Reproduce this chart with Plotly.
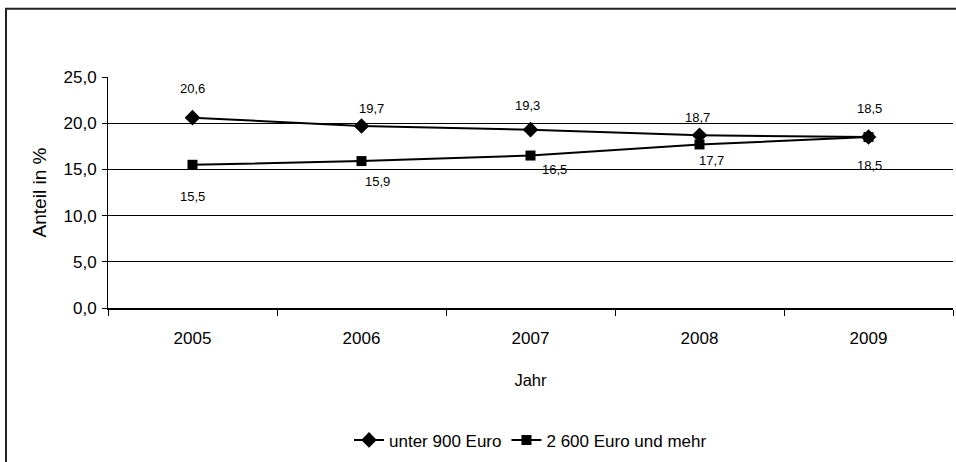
import plotly.graph_objects as go

# Data
years = ["2005", "2006", "2007", "2008", "2009"]
unter_900 = [20.6, 19.7, 19.3, 18.7, 18.5]
ab_2600 = [15.5, 15.9, 16.5, 17.7, 18.5]
series_names = ["unter 900 Euro", "2 600 Euro und mehr"]

# Label offsets (pixels) for the value annotations
label_shift_top = [(0, 29), (10, 17), (-3, 24), (-2, 18), (1, 29)]
label_shift_bottom = [(0, -32), (16, -20), (24, -14), (12, -16), (1, -28)]

FONT = "Liberation Sans, Arial, sans-serif"

fig = go.Figure()
fig.add_trace(go.Scatter(
    x=years, y=unter_900, name=series_names[0], mode="lines+markers",
    line=dict(color="black", width=2),
    marker=dict(symbol="diamond", size=12, color="black"),
))
fig.add_trace(go.Scatter(
    x=years, y=ab_2600, name=series_names[1], mode="lines+markers",
    line=dict(color="black", width=2),
    marker=dict(symbol="square", size=10, color="black"),
))

def fmt(v):
    return f"{v:.1f}".replace(".", ",")

annotations = []
for i, (v, (dx, dy)) in enumerate(zip(unter_900, label_shift_top)):
    annotations.append(dict(x=i, y=v, xref="x", yref="y", text=fmt(v), showarrow=False,
                            xshift=dx, yshift=dy,
                            font=dict(family=FONT, size=13, color="black")))
for i, (v, (dx, dy)) in enumerate(zip(ab_2600, label_shift_bottom)):
    annotations.append(dict(x=i, y=v, xref="x", yref="y", text=fmt(v), showarrow=False,
                            xshift=dx, yshift=dy,
                            font=dict(family=FONT, size=13, color="black")))

fig.update_layout(
    width=956, height=462,
    margin=dict(l=108, r=3, t=77, b=151),
    paper_bgcolor="white", plot_bgcolor="white",
    separators=",.",
    font=dict(family=FONT, size=16, color="black"),
    showlegend=True,
    legend=dict(orientation="h", x=0.5, xanchor="center", y=-0.573, yanchor="middle",
                font=dict(family=FONT, size=17, color="black"),
                itemwidth=30, traceorder="normal"),
    annotations=annotations,
    shapes=[dict(type="rect", xref="paper", yref="paper",
                 x0=-0.1207, x1=1.01, y0=-0.7, y1=1.295,
                 line=dict(color="#222222", width=2), layer="below")],
)

fig.update_xaxes(
    type="category", range=[-0.5, 4.5],
    showline=True, linecolor="black", linewidth=2,
    ticks="outside", tickson="boundaries", ticklen=6, tickcolor="black", tickwidth=1,
    showgrid=False, zeroline=False,
    tickfont=dict(family=FONT, size=17), ticklabelstandoff=14,
    title=dict(text="Jahr", font=dict(family=FONT, size=16.5), standoff=27),
)
fig.update_yaxes(
    range=[0, 25], dtick=5, tickformat=".1f",
    showline=True, linecolor="black", linewidth=1,
    ticks="outside", ticklen=5, tickcolor="black",
    showgrid=True, gridcolor="black", gridwidth=1, zeroline=False,
    tickfont=dict(family=FONT, size=17), ticklabelstandoff=2,
    title=dict(text="Anteil in %", font=dict(family=FONT, size=19), standoff=11),
)

fig.write_html("out.html")
